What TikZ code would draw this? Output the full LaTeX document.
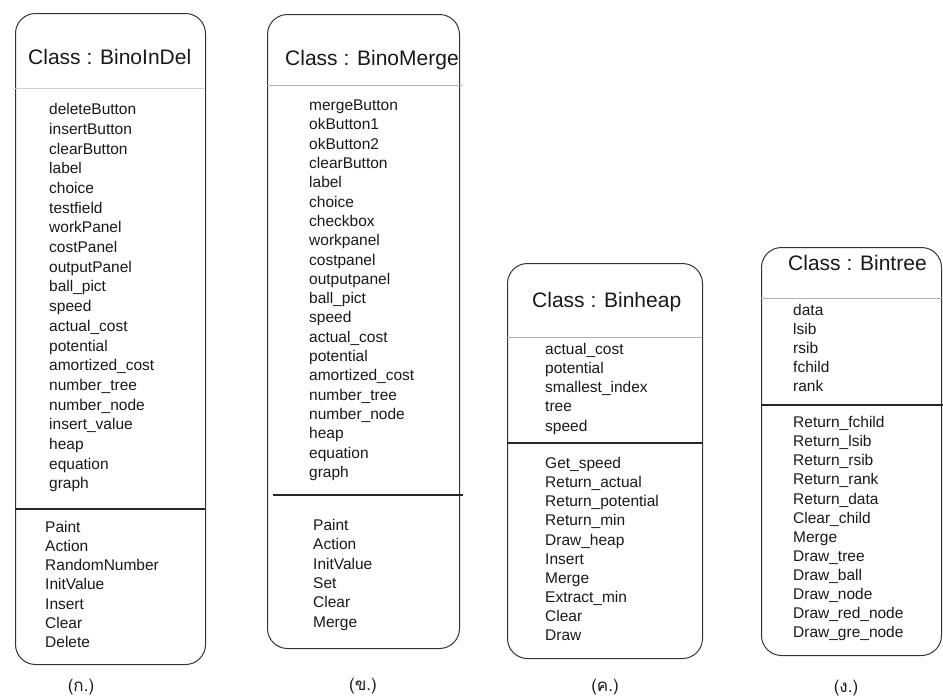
\documentclass[tikz,border=0pt]{standalone}
\usepackage{fontspec}
\setmainfont{Liberation Sans}
\newfontfamily\thaifont[Script=Thai]{Loma}
\begin{document}
\begin{tikzpicture}[x=1pt,y=-1pt,
  classbox/.style={draw=black!80, line width=1pt, rounded corners=20pt,
    inner sep=0pt, anchor=north west},
  titletext/.style={font=\fontsize{21}{25}\selectfont, anchor=mid west,
    inner sep=0pt, text=black!90},
  item/.style={font=\fontsize{15.5}{18}\selectfont, anchor=mid west,
    inner sep=0pt, text=black!90},
  rule/.style={draw=black!85, line width=1.1pt},
  softrule/.style={draw=black!30, line width=1pt},
  caption/.style={font=\thaifont\fontsize{17}{19}\selectfont,
    inner sep=0pt, text=black!90}
]
\useasboundingbox (0,0) rectangle (943,699);

% ---------- Class : BinoInDel ----------
\node[classbox, minimum width=190pt, minimum height=651pt] (b1) at (15,13) {};
\node[titletext] (b1t) at (28,62) {Class : BinoInDel};
\draw[softrule, draw=black!18] (15,88) -- (205,88);
\foreach \t [count=\i from 0] in {deleteButton, insertButton, clearButton,
    label, choice, testfield, workPanel, costPanel, outputPanel, ball\_pict,
    speed, actual\_cost, potential, amortized\_cost, number\_tree,
    number\_node, insert\_value, heap, equation, graph}
  \node[item] (b1a\i) at (49,{112+\i*19.7}) {\t};
\draw[rule] (15,509) -- (205,509);
\foreach \t [count=\i from 0] in {Paint, Action, RandomNumber, InitValue,
    Insert, Clear, Delete}
  \node[item] (b1m\i) at (45,{530+\i*19.1}) {\t};
\node[caption] (c1) at (81,687) {(ก.)};

% ---------- Class : BinoMerge ----------
\node[classbox, minimum width=192pt, minimum height=634pt] (b2) at (267,14) {};
\node[titletext] (b2t) at (285,63) {Class : BinoMerge};
\draw[softrule] (267,85) -- (462,85);
\foreach \t [count=\i from 0] in {mergeButton, okButton1, okButton2,
    clearButton, label, choice, checkbox, workpanel, costpanel, outputpanel,
    ball\_pict, speed, actual\_cost, potential, amortized\_cost,
    number\_tree, number\_node, heap, equation, graph}
  \node[item] (b2a\i) at (309,{108+\i*19.3}) {\t};
\draw[rule] (273,495) -- (463,495);
\foreach \t [count=\i from 0] in {Paint, Action, InitValue, Set, Clear, Merge}
  \node[item] (b2m\i) at (313,{528+\i*19.3}) {\t};
\node[caption] (c2) at (363,686) {(ข.)};

% ---------- Class : Binheap ----------
\node[classbox, minimum width=195pt, minimum height=395pt] (b3) at (507,263) {};
\node[titletext] (b3t) at (532,305) {Class : Binheap};
\draw[softrule] (507,337) -- (702,337);
\foreach \t [count=\i from 0] in {actual\_cost, potential, smallest\_index,
    tree, speed}
  \node[item] (b3a\i) at (545,{352+\i*19.1}) {\t};
\draw[rule] (507,443) -- (702,443);
\foreach \t [count=\i from 0] in {Get\_speed, Return\_actual,
    Return\_potential, Return\_min, Draw\_heap, Insert, Merge, Extract\_min,
    Clear, Draw}
  \node[item] (b3m\i) at (545,{466+\i*19.1}) {\t};
\node[caption] (c3) at (605,687) {(ค.)};

% ---------- Class : Bintree ----------
\node[classbox, minimum width=180pt, minimum height=408pt] (b4) at (761,247) {};
\node[titletext] (b4t) at (788,268) {Class : Bintree};
\draw[softrule] (761,298) -- (943,298);
\foreach \t [count=\i from 0] in {data, lsib, rsib, fchild, rank}
  \node[item] (b4a\i) at (793,{313+\i*19}) {\t};
\draw[rule] (761,405) -- (943,405);
\foreach \t [count=\i from 0] in {Return\_fchild, Return\_lsib, Return\_rsib,
    Return\_rank, Return\_data, Clear\_child, Merge, Draw\_tree, Draw\_ball,
    Draw\_node, Draw\_red\_node, Draw\_gre\_node}
  \node[item] (b4m\i) at (793,{425+\i*19.1}) {\t};
\node[caption] (c4) at (846,688) {(ง.)};
\end{tikzpicture}
\end{document}
